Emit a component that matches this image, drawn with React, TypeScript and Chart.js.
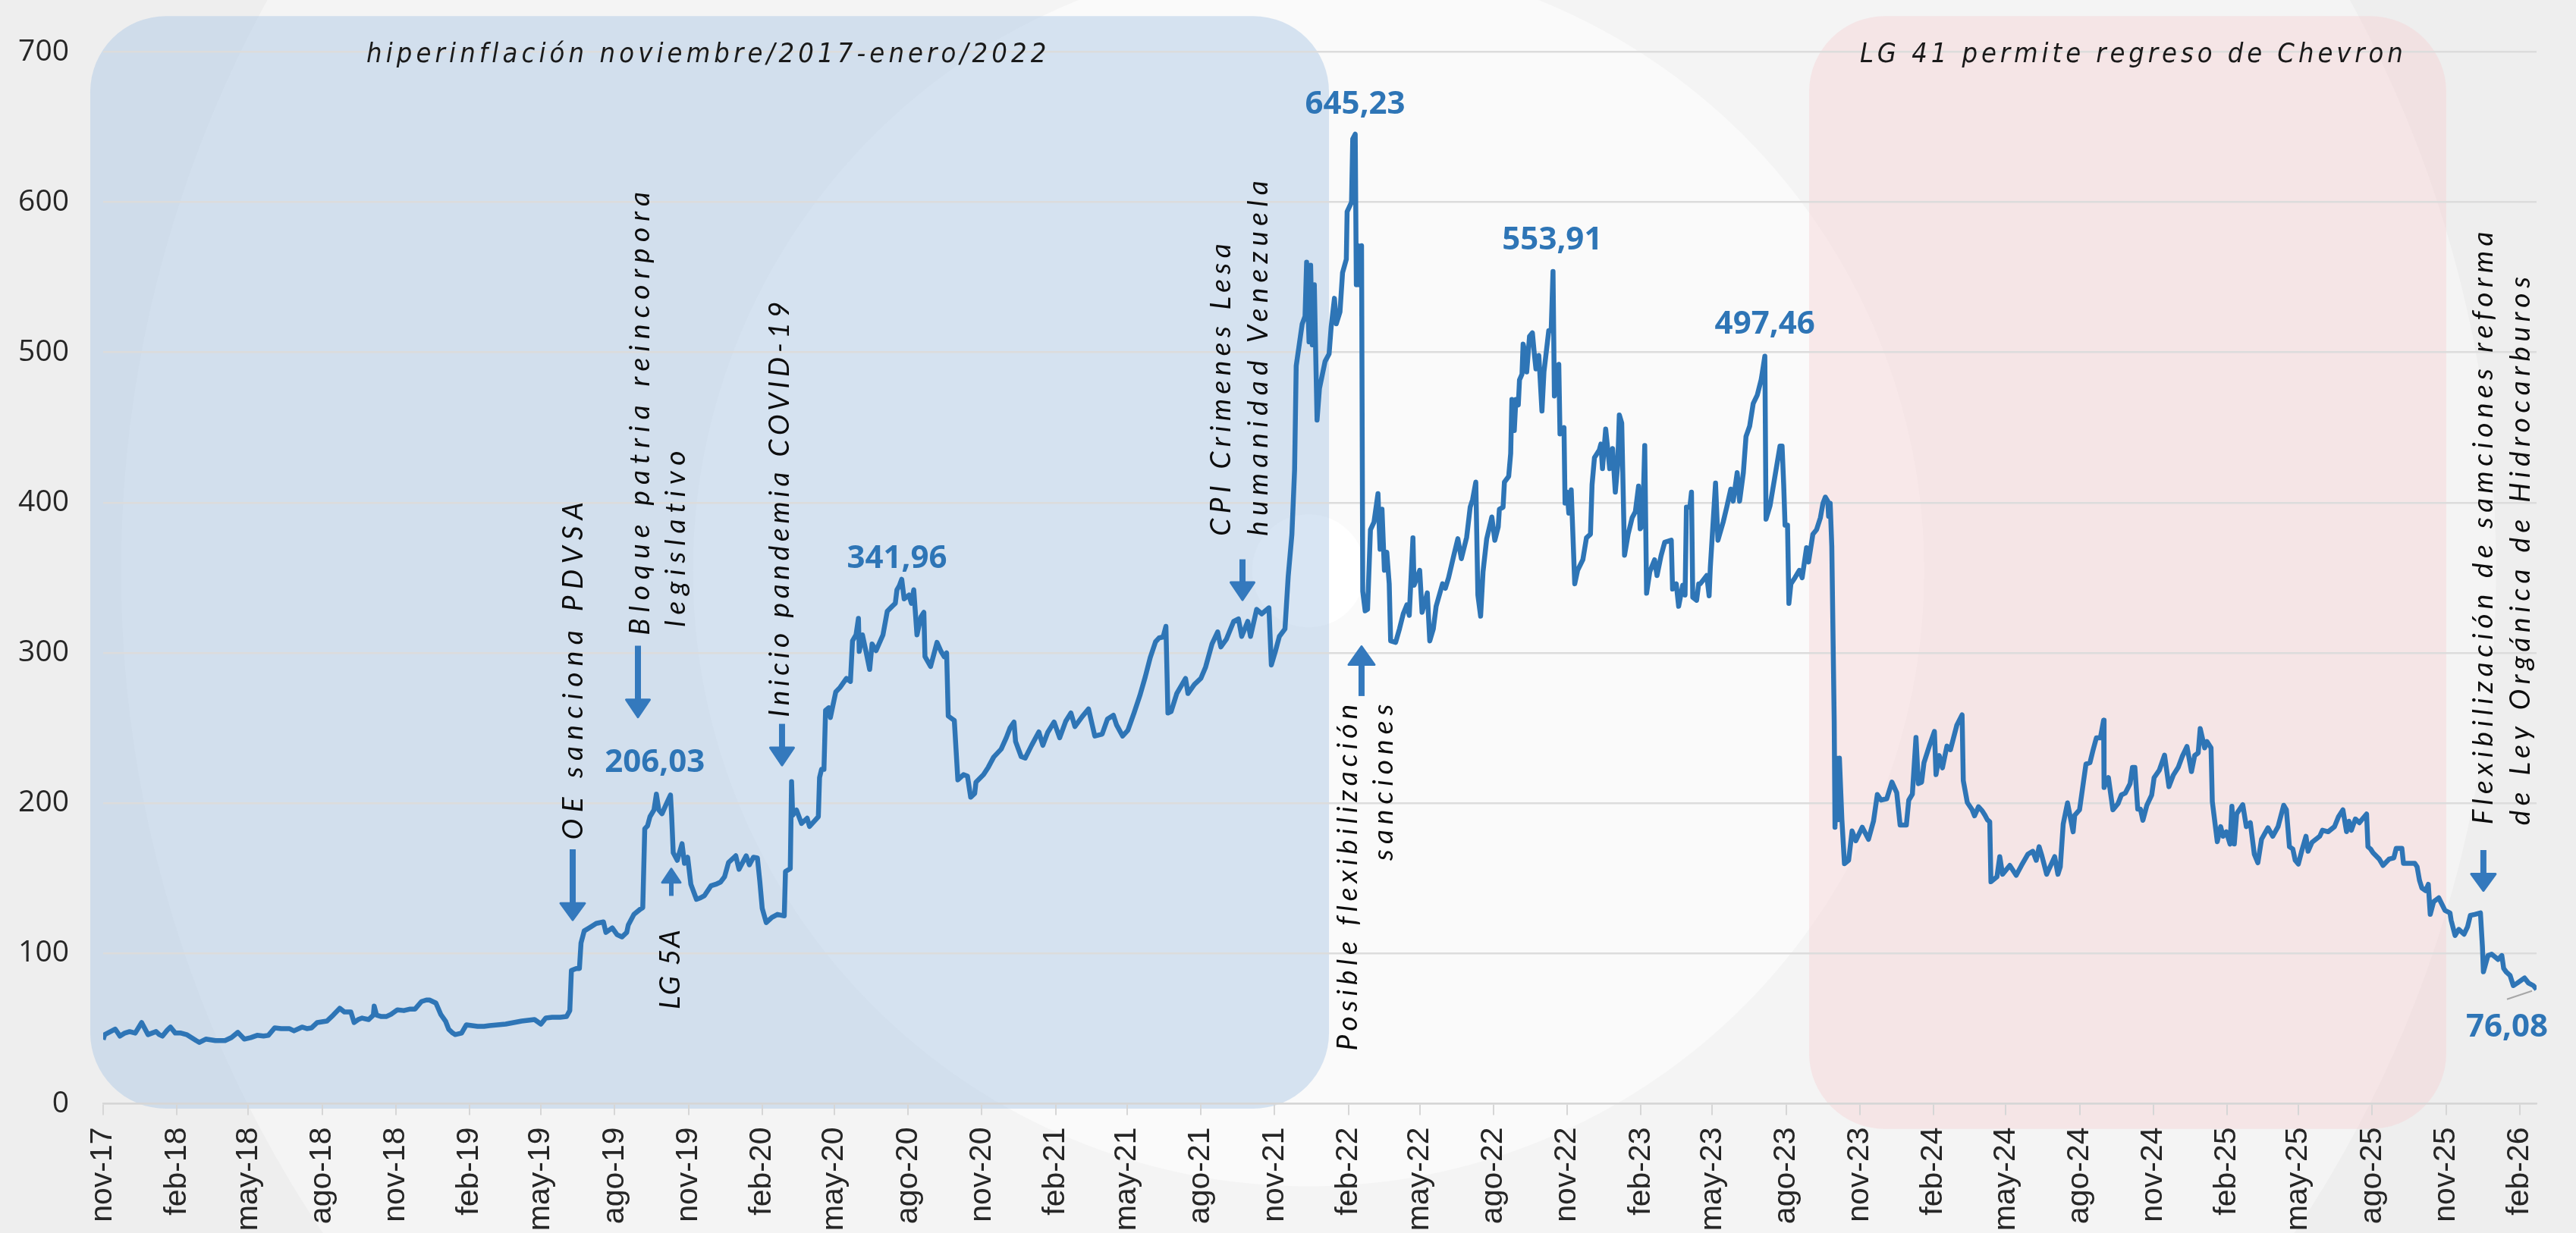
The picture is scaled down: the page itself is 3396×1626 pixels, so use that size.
import React, { useEffect, useRef } from 'react';
import { Chart, registerables } from 'chart.js';

Chart.register(...registerables);

const ANCHO = 3396;
const ALTO = 1626;

// Eje X: marcas trimestrales (primer día del mes)
const etiquetasEjeX = [
  'nov-17', 'feb-18', 'may-18', 'ago-18', 'nov-18', 'feb-19', 'may-19', 'ago-19', 'nov-19',
  'feb-20', 'may-20', 'ago-20', 'nov-20', 'feb-21', 'may-21', 'ago-21', 'nov-21', 'feb-22',
  'may-22', 'ago-22', 'nov-22', 'feb-23', 'may-23', 'ago-23', 'nov-23', 'feb-24', 'may-24',
  'ago-24', 'nov-24', 'feb-25', 'may-25', 'ago-25', 'nov-25', 'feb-26',
];
const MESES = ['ene', 'feb', 'mar', 'abr', 'may', 'jun', 'jul', 'ago', 'sep', 'oct', 'nov', 'dic'];
const DIA_FINAL = 3035; // días desde 1-nov-2017 hasta el último dato
const EJE_Y_MAX = 700;
const EJE_Y_PASO = 100;

// Serie: [días desde 1-nov-2017, valor]
const tramo2017a2019: [number, number][] = [
  [0, 42.7], [2, 46], [15, 49.7], [21, 45], [27, 47], [33, 48], [40, 47], [48, 54], [52, 50], [56, 46],
  [61, 47], [66, 48], [70, 46], [74, 45], [80, 49], [84, 51], [90, 47], [97, 47], [104, 46], [110, 44],
  [116, 42], [120, 40.8], [128, 43], [140, 42], [152, 42], [160, 44], [168, 47.5], [176, 43], [184, 44],
  [192, 45.5], [200, 45], [206, 45.5], [214, 50.5], [222, 50], [232, 50], [238, 48.5], [248, 51], [254, 50],
  [260, 50.5], [267, 54], [279, 55], [287, 59], [295, 63.5], [301, 61], [309, 61], [313, 54], [318, 56],
  [323, 57], [331, 56], [337, 59], [338, 65], [341, 59], [347, 58], [353, 58], [359, 59.5], [367, 62.5],
  [375, 62], [383, 63], [389, 63], [397, 68], [403, 69], [407, 69], [415, 67], [421, 59.5], [427, 55],
  [431, 49.5], [436, 47], [439, 46], [447, 47], [453, 52.5], [460, 52], [467, 51.5], [475, 51.5], [482, 52],
  [492, 52.5], [502, 53], [512, 54], [522, 55], [530, 55.5], [538, 56], [546, 53], [552, 57], [560, 57.5],
  [570, 57.5], [578, 58], [582, 62], [584, 88.7], [590, 90], [594, 90], [596, 107], [600, 115], [606, 117],
];

const tramo2019a2020: [number, number][] = [
  [615, 120], [624, 121], [627, 114], [635, 117], [641, 112.5], [647, 111], [653, 114], [655, 119], [662, 126],
  [670, 129.5], [673, 130.5], [675.5, 183], [679, 185], [682, 191], [687, 195.5], [690, 206.03], [693, 195.5],
  [697, 193], [702, 199], [707.6, 205.4], [709, 192], [711, 167], [716, 162], [722, 173], [725, 160], [729, 164],
  [733, 146], [740, 136], [745, 137], [750, 138.5], [758, 145], [764, 146], [770, 147.5], [775, 151], [780, 160.5],
  [789, 165], [793, 156], [802, 165], [806, 159], [811, 164], [816, 163.5], [819, 148], [822, 130], [827, 120.5],
  [834, 124], [841, 126], [849.5, 125], [851, 154.5], [857, 156.5], [858.6, 214.4], [860, 192], [864.7, 195.5],
  [871, 186.5], [878, 190], [881, 184.5], [892, 191], [893.5, 217], [896, 222.5], [899, 222.5], [901, 261.8],
  [905, 263.5], [907, 257], [913.7, 274], [919, 277], [927, 283], [932, 281], [934.6, 308], [939, 312], [942, 323],
  [943, 301], [947, 312], [952, 299.5], [956, 289], [959, 306], [964, 301.5], [972.6, 312], [978, 327.8], [984, 331],
  [988, 333], [990, 341.96], [993, 344.7], [996, 349], [999, 336], [1005, 338.5], [1008, 333], [1011, 342],
  [1015, 312], [1020, 324], [1023.6, 327], [1025, 297.5], [1032, 291], [1040, 307], [1045, 301], [1049, 297.5],
  [1052, 300], [1054, 258], [1061.6, 255],
];

const tramo2020a2022: [number, number][] = [
  [1066, 215.5], [1073, 219], [1078, 218], [1082, 204], [1087, 206.5], [1088.6, 214], [1098, 219], [1104, 224],
  [1110.7, 230.7], [1120, 236], [1126.5, 243.7], [1131, 250], [1136, 254], [1138, 241], [1145, 231], [1150, 230],
  [1158, 238.5], [1167, 247.4], [1172, 238.5], [1178, 247], [1186, 254], [1193, 243.5], [1200.6, 254.6], [1207, 260],
  [1212, 251], [1221, 257.6], [1229, 262.7], [1236.8, 244.7], [1246, 246], [1252.6, 256], [1260, 258.5], [1264, 252],
  [1271.5, 244.7], [1278, 248.5], [1285.7, 260], [1293, 271.6], [1299.7, 284], [1306, 297], [1312.6, 307.5],
  [1317, 310], [1322, 310.6], [1325.5, 317.7], [1328, 260], [1332, 261], [1339, 272.9], [1350, 283], [1353, 273],
  [1361, 279], [1369, 283], [1375, 290.6], [1383, 306], [1390, 314], [1394, 304], [1400.8, 309], [1410, 321],
  [1416, 322.6], [1420, 311], [1427.6, 321], [1431, 311], [1438.7, 329], [1445, 326], [1454, 330], [1457, 292],
  [1462, 301], [1467, 311], [1474, 316], [1478, 350.7], [1482.6, 378.7], [1486, 422], [1488, 491], [1495.5, 519],
  [1499, 524], [1501, 560], [1504, 507], [1506, 558], [1508, 505], [1510.6, 545], [1514, 455], [1517, 476],
  [1524, 494], [1529, 499], [1531.6, 517], [1535.7, 536], [1538, 519], [1542.6, 527], [1545.8, 553], [1550.5, 562],
];

const tramo2022a2023: [number, number][] = [
  [1551.5, 593.7], [1557, 600], [1558.5, 642], [1561.6, 645.23], [1563, 545], [1565, 571], [1567, 545],
  [1569.5, 571], [1571, 341], [1574, 328], [1577, 329], [1580.6, 382], [1585, 387], [1590, 406], [1592.6, 369],
  [1595, 395.6], [1598, 355], [1601, 367], [1604, 346], [1605.8, 308], [1612, 307], [1616.8, 316], [1621.5, 326],
  [1626, 332], [1629, 325], [1633.6, 376.6], [1635, 345], [1642, 355], [1645, 327], [1651.5, 340], [1654.6, 308],
  [1659, 316], [1662.5, 331], [1670.5, 346], [1674, 343], [1678, 350], [1684.6, 365], [1689.6, 376], [1694, 362.7],
  [1700.6, 377], [1705, 397], [1708, 402], [1712, 413.7], [1714.6, 338.5], [1718, 324.5], [1721, 354],
  [1725.6, 376], [1732, 390.5], [1735.7, 375], [1740, 384], [1741.4, 395.6], [1746, 397], [1747.7, 413.7],
  [1753, 417.5], [1755.5, 432.7], [1757, 468.7], [1760, 448], [1762, 468.7], [1765, 465], [1766.5, 481.7],
  [1769.6, 485.5], [1771, 505.5], [1774, 499], [1775.5, 487], [1779, 510.7], [1782.6, 513], [1785, 499],
  [1787, 489], [1790.6, 498], [1794.5, 461], [1797, 487], [1803, 514.5], [1806, 514.5], [1808.3, 553.91],
  [1810, 471], [1814, 487], [1815.5, 492], [1817, 445.7], [1822, 450], [1823.3, 399.7], [1826, 407], [1828, 393],
  [1831, 408.5], [1835.4, 346], [1839, 355], [1845.5, 362], [1850, 376.6], [1855, 379], [1857, 412], [1860, 430],
  [1866, 435], [1868, 439], [1870, 422.6], [1874, 449], [1879, 422.6], [1882.6, 436], [1886, 407], [1889, 425],
  [1891, 458.4], [1894, 453], [1897.5, 365], [1902, 379], [1907, 390], [1911, 394], [1915, 411], [1917, 382.6],
  [1920, 385], [1922.7, 438], [1925, 339.7], [1929, 354], [1935, 362], [1938, 351.5], [1943, 364.5],
  [1947.6, 373.6], [1955.8, 375], [1957.4, 342.5], [1962, 346], [1965, 331], [1970, 345], [1973, 338.5],
  [1974.7, 397], [1979, 397], [1981, 407], [1982.6, 337], [1987.4, 335], [1990, 346],
];

const tramo2023a2024: [number, number][] = [
  [1992, 346], [2000, 351.5], [2003, 338], [2004.5, 357], [2011, 413], [2014, 375], [2020.5, 387], [2025, 397],
  [2030, 409], [2033, 401], [2038, 420], [2041, 401], [2045.7, 420], [2049, 444], [2053.6, 451], [2058, 466],
  [2063, 471.5], [2068, 482], [2072.5, 497.46], [2074, 389], [2079, 398], [2091.4, 437.7], [2094, 437.7],
  [2096, 412], [2097.7, 385], [2100.8, 385], [2102.5, 333], [2105, 346], [2110, 350], [2115.5, 355], [2119, 350],
  [2124.5, 370], [2127, 360.5], [2132.4, 379], [2137, 382], [2141.8, 390], [2145, 399.6], [2148, 403.7],
  [2151, 401], [2152, 391], [2154, 399.6], [2156, 371], [2159, 254.7], [2160, 184], [2162, 230], [2164, 189],
  [2165.5, 230], [2168.6, 189], [2171.8, 159.7], [2177, 162], [2181.3, 181.5], [2186, 175], [2194, 184],
  [2201.8, 176], [2208, 188], [2212.8, 205.8], [2217.5, 202], [2224.6, 203], [2231, 214], [2237, 207],
  [2241.2, 185.5], [2249, 185.5], [2252, 202], [2256.5, 206], [2261, 243.8], [2264, 213], [2268, 214], [2271, 227],
  [2277.6, 238], [2284, 247.7], [2286, 219], [2290, 231.7], [2294, 223.5], [2299.6, 238], [2304, 235.6],
  [2312, 252], [2318.5, 258.8], [2320, 215], [2325, 200.5], [2331, 195.7], [2334, 191.6], [2339, 197.6],
  [2343.5, 195], [2347, 192], [2350, 189], [2353, 187.6], [2354.5, 147.7], [2362, 151], [2365.5, 164.4],
  [2369, 152.7], [2378, 158.6], [2386, 152], [2392.6, 158.6], [2400.5, 166], [2406.7, 168],
];

const tramo2024a2025: [number, number][] = [
  [2411, 162], [2414.6, 171], [2418, 165], [2424, 152.7], [2434, 164.4], [2438, 152.7], [2441, 157.7],
  [2444.6, 186], [2450, 200.2], [2457, 181], [2459, 192], [2465, 195.6], [2473, 226], [2478, 227], [2481.7, 235],
  [2486, 243.5], [2491, 243.5], [2495, 255.2], [2495.6, 210.5], [2501, 217], [2506.6, 195.6], [2513, 199.7],
  [2517.2, 205.5], [2522, 206.7], [2528, 213], [2531, 223.8], [2534, 223.8], [2537.6, 196], [2541, 196],
  [2544, 188.6], [2549, 198.6], [2555, 205.5], [2558, 217], [2564.5, 222], [2571, 232], [2576.5, 211],
  [2582, 218.7], [2588, 223.8], [2593, 231], [2599, 237.7], [2604.6, 221], [2608.6, 231.7], [2613, 233.5],
  [2615.5, 249.7], [2621, 236.8], [2624, 241], [2629, 236.8], [2630.6, 201], [2636.8, 174.4], [2641, 184.4],
  [2644, 178], [2648, 181], [2652.7, 172.8], [2655, 198], [2658, 172.8], [2661, 193], [2668.6, 199], [2673, 184.4],
  [2678, 187], [2683, 166], [2687.4, 160.3], [2692, 176], [2700, 183.6], [2706, 178], [2712.6, 184.4],
  [2719.6, 198.6], [2723, 195.6], [2726.8, 171], [2731, 169.5], [2734, 162], [2737.9, 159.5], [2742, 168],
  [2747.4, 178], [2750, 168], [2755, 174], [2764.6, 178], [2768, 182], [2775, 181], [2783, 184.4], [2788, 191],
  [2793.5, 195.6], [2798, 181], [2801, 188],
];

const tramo2025a2026: [number, number][] = [
  [2804, 182], [2809, 189.5], [2814, 187], [2823, 192.8], [2824.7, 171], [2828, 169.5], [2831, 167],
  [2838.8, 162.8], [2843.5, 158.6], [2851, 162.8], [2857, 163.6], [2860, 170], [2867, 170], [2869, 160],
  [2876.6, 160], [2883, 160], [2886, 157.7], [2889, 148.6], [2892, 143.5], [2896.7, 141.8], [2900, 146],
  [2902.4, 126], [2906.6, 134.4], [2913, 137], [2917, 132.7], [2920.8, 128.6], [2927, 127], [2928.5, 122],
  [2933.4, 112], [2938, 116], [2944.5, 112.8], [2949, 117.8], [2952.4, 125.3], [2958, 126], [2965, 127],
  [2967.5, 104.4], [2968.7, 87.8], [2974.4, 98.6], [2979, 99.5], [2983, 97.8], [2987, 96], [2991.7, 98.6],
  [2994, 90], [2997, 87.8], [3002, 85.3], [3006, 78.6], [3011, 80.3], [3020, 83.7], [3025, 80.3], [3031, 78.6],
  [3035, 76.08],
];

// Periodos sombreados (días, valores del eje Y)
const periodos = [
  { texto: 'hiperinflación noviembre/2017-enero/2022', desde: -16.1, hasta: 1528.9, techo: 723.8, piso: -3.3,
    relleno: 'rgba(170,198,228,0.46)', textoDesde: 328.3, textoHasta: 1176.8 },
  { texto: 'LG 41 permite regreso de Chevron', desde: 2127.7, hasta: 2922.4, techo: 723.8, piso: -16.8,
    relleno: 'rgba(246,210,212,0.44)', textoDesde: 2191, textoHasta: 2868.4 },
];
const ALTURA_TITULOS = 693.3;

// Notas verticales: día de la línea base, valores de inicio y final del texto
const notas = [
  { texto: 'OE sanciona PDVSA', dia: 597.9, desde: 175.8, hasta: 400.3 },
  { texto: 'Bloque patria reincorpora', dia: 680.7, desde: 311.8, hasta: 606.8 },
  { texto: 'legislativo', dia: 725.7, desde: 317.3, hasta: 434.3 },
  { texto: 'LG 5A', dia: 719, desde: 62.8, hasta: 115.8 },
  { texto: 'Inicio pandemia COVID-19', dia: 855.3, desde: 257.3, hasta: 533.8 },
  { texto: 'CPI Crimenes Lesa', dia: 1405.9, desde: 377.8, hasta: 572.3 },
  { texto: 'humanidad Venezuela', dia: 1451.9, desde: 377.8, hasta: 614.3 },
  { texto: 'Posible flexibilización', dia: 1563.9, desde: 35.3, hasta: 265.8 },
  { texto: 'sanciones', dia: 1608.3, desde: 161.8, hasta: 265.8 },
  { texto: 'Flexibilización de samciones reforma', dia: 2980, desde: 185.8, hasta: 580.3 },
  { texto: 'de Ley Orgánica de Hidrocarburos', dia: 3026.5, desde: 185.3, hasta: 550.3 },
];

// Flechas: día, valor de la cola, valor de la punta
const flechas = [
  { dia: 585.6, cola: 169.3, punta: 122.3, largoPunta: 22, anchoPunta: 32, grosor: 8 },
  { dia: 667, cola: 304.8, punta: 257.3, largoPunta: 23, anchoPunta: 31, grosor: 8 },
  { dia: 708.6, cola: 138.3, punta: 156.3, largoPunta: 18, anchoPunta: 24, grosor: 6 },
  { dia: 846.7, cola: 252.8, punta: 225.3, largoPunta: 23, anchoPunta: 31, grosor: 8 },
  { dia: 1421, cola: 362.3, punta: 335.3, largoPunta: 23, anchoPunta: 31, grosor: 8 },
  { dia: 1569.5, cola: 271.3, punta: 304.3, largoPunta: 24, anchoPunta: 34, grosor: 8 },
  { dia: 2968.7, cola: 168.8, punta: 141.8, largoPunta: 22, anchoPunta: 32, grosor: 8 },
];

// Etiquetas de valores destacados
const etiquetasValor = [
  { dia: 690, valor: 206.03, dx: -2, dy: -29 },
  { dia: 990, valor: 341.96, dx: 0, dy: -29 },
  { dia: 1561.6, valor: 645.23, dx: 0, dy: -27 },
  { dia: 1808.3, valor: 553.91, dx: -1, dy: -29 },
  { dia: 2072.5, valor: 497.46, dx: 0, dy: -30 },
  { dia: 3035, valor: 76.08, dx: -39, dy: 62, guia: true },
];

const AZUL = '#2e75b6';
const AZUL_FLECHA = '#3479bd';

function diaDeEtiqueta(l: string): number {
  const [m, a] = l.split('-');
  return (Date.UTC(2000 + Number(a), MESES.indexOf(m), 1) - Date.UTC(2017, 10, 1)) / 86400000;
}

function ajustarTexto(ctx: CanvasRenderingContext2D, texto: string, largo: number, fuente: string) {
  ctx.font = fuente;
  (ctx as any).letterSpacing = '0px';
  const w = ctx.measureText(texto).width;
  const n = Array.from(texto).length;
  const esp = n > 1 ? (largo - w) / (n - 1) : 0;
  (ctx as any).letterSpacing = `${esp}px`;
}

const fondoPlugin = {
  id: 'fondo',
  beforeDraw(chart: any) {
    const { ctx, width, height, scales } = chart;
    const x = scales.x;
    const y = scales.y;
    ctx.save();
    ctx.fillStyle = '#eeeeee';
    ctx.fillRect(0, 0, width, height);
    const cx = width * 0.508;
    const cy = height * 0.463;
    const circulos = [
      { r: width * 0.461, a: 0.38 },
      { r: width * 0.239, a: 0.5 },
      { r: width * 0.022, a: 0.85 },
    ];
    for (const c of circulos) {
      ctx.beginPath();
      ctx.arc(cx, cy, c.r, 0, Math.PI * 2);
      ctx.fillStyle = `rgba(255,255,255,${c.a})`;
      ctx.fill();
    }
    for (const p of periodos) {
      const x0 = x.getPixelForValue(p.desde);
      const x1 = x.getPixelForValue(p.hasta);
      const y0 = y.getPixelForValue(p.techo);
      const y1 = y.getPixelForValue(p.piso);
      ctx.beginPath();
      ctx.roundRect(x0, y0, x1 - x0, y1 - y0, 100);
      ctx.fillStyle = p.relleno;
      ctx.fill();
    }
    ctx.restore();
  },
};

const notasPlugin = {
  id: 'notas',
  afterDatasetsDraw(chart: any) {
    const { ctx, scales } = chart;
    const x = scales.x;
    const y = scales.y;
    ctx.save();
    // títulos de los periodos
    for (const p of periodos) {
      const x0 = x.getPixelForValue(p.textoDesde);
      const x1 = x.getPixelForValue(p.textoHasta);
      ajustarTexto(ctx, p.texto, x1 - x0, 'italic 36px "Liberation Sans Narrow", "DejaVu Sans Condensed", sans-serif');
      ctx.fillStyle = '#1a1a1a';
      ctx.textAlign = 'left';
      ctx.textBaseline = 'alphabetic';
      ctx.fillText(p.texto, x0, y.getPixelForValue(ALTURA_TITULOS));
    }
    // notas verticales
    for (const n of notas) {
      const bx = x.getPixelForValue(n.dia);
      const y0 = y.getPixelForValue(n.desde);
      const y1 = y.getPixelForValue(n.hasta);
      ajustarTexto(ctx, n.texto, y0 - y1, 'italic 37px Lato, "Open Sans", sans-serif');
      ctx.save();
      ctx.translate(bx, y0);
      ctx.rotate(-Math.PI / 2);
      ctx.fillStyle = '#0d0d0d';
      ctx.textAlign = 'left';
      ctx.textBaseline = 'alphabetic';
      ctx.fillText(n.texto, 0, 0);
      ctx.restore();
    }
    (ctx as any).letterSpacing = '0px';
    // flechas
    for (const f of flechas) {
      const fx = x.getPixelForValue(f.dia);
      const yc = y.getPixelForValue(f.cola);
      const yp = y.getPixelForValue(f.punta);
      const dir = Math.sign(yp - yc);
      const yb = yp - dir * f.largoPunta;
      ctx.strokeStyle = AZUL_FLECHA;
      ctx.fillStyle = AZUL_FLECHA;
      ctx.lineCap = 'butt';
      ctx.lineWidth = f.grosor;
      ctx.beginPath();
      ctx.moveTo(fx, yc);
      ctx.lineTo(fx, yb + dir * 2);
      ctx.stroke();
      ctx.beginPath();
      ctx.moveTo(fx - f.anchoPunta / 2, yb);
      ctx.lineTo(fx + f.anchoPunta / 2, yb);
      ctx.lineTo(fx, yp);
      ctx.closePath();
      ctx.lineJoin = 'round';
      ctx.lineWidth = 3;
      ctx.fill();
      ctx.stroke();
    }
    // etiquetas de valores
    ctx.font = 'bold 42px "Open Sans", "Liberation Sans", sans-serif';
    ctx.textAlign = 'center';
    ctx.textBaseline = 'alphabetic';
    for (const e of etiquetasValor) {
      const px = x.getPixelForValue(e.dia);
      const py = y.getPixelForValue(e.valor);
      if (e.guia) {
        ctx.strokeStyle = '#a6a6a6';
        ctx.lineWidth = 2;
        ctx.beginPath();
        ctx.moveTo(px - 39, py + 13);
        ctx.lineTo(px - 6, py + 2);
        ctx.stroke();
      }
      ctx.fillStyle = AZUL;
      ctx.fillText(e.valor.toFixed(2).replace('.', ','), px + e.dx, py + e.dy);
    }
    ctx.restore();
  },
};

export default function App() {
  const ref = useRef<HTMLCanvasElement | null>(null);

  useEffect(() => {
    if (!ref.current) return;
    const puntos = [
      ...tramo2017a2019, ...tramo2019a2020, ...tramo2020a2022, ...tramo2022a2023,
      ...tramo2023a2024, ...tramo2024a2025, ...tramo2025a2026,
    ].map(([d, v]) => ({ x: d, y: v }));

    const chart = new Chart(ref.current, {
      type: 'line',
      data: {
        datasets: [{
          data: puntos,
          borderColor: AZUL,
          borderWidth: 6.5,
          pointRadius: 0,
          tension: 0,
          borderJoinStyle: 'round',
          fill: false,
        }],
      },
      options: {
        responsive: false,
        animation: false,
        devicePixelRatio: 1,
        layout: { padding: { top: 55.5, right: 52, left: 0, bottom: 0 } },
        plugins: { legend: { display: false }, tooltip: { enabled: false } },
        scales: {
          x: {
            type: 'linear',
            min: 0,
            max: DIA_FINAL,
            afterBuildTicks: (scale: any) => {
              scale.ticks = etiquetasEjeX.map((l) => ({ value: diaDeEtiqueta(l) }));
            },
            afterFit: (scale: any) => {
              scale.height = ALTO - 1455.5;
              scale.paddingLeft = 0;
              scale.paddingRight = 0;
            },
            ticks: {
              autoSkip: false,
              maxRotation: 90,
              minRotation: 90,
              padding: 16,
              color: '#262626',
              font: { family: '"Liberation Sans", Arial, sans-serif', size: 41 },
              callback: (_v: any, i: number) => etiquetasEjeX[i],
            },
            grid: {
              drawOnChartArea: false,
              drawTicks: true,
              tickLength: 15,
              color: '#d6d6d6',
              lineWidth: 2,
            },
            border: { display: true, color: '#d6d6d6', width: 2.5 },
          },
          y: {
            min: 0,
            max: EJE_Y_MAX,
            afterFit: (scale: any) => {
              scale.width = 136;
            },
            ticks: {
              stepSize: EJE_Y_PASO,
              padding: 45,
              color: '#262626',
              font: { family: '"Open Sans", sans-serif', size: 39 },
            },
            grid: { color: '#dcdcdc', lineWidth: 2.5, drawTicks: false },
            border: { display: false },
          },
        },
      },
      plugins: [fondoPlugin, notasPlugin],
    } as any);

    return () => chart.destroy();
  }, []);

  return (
    <div style={{ position: 'fixed', left: 0, top: 0, width: ANCHO, height: ALTO }}>
      <canvas ref={ref} width={ANCHO} height={ALTO} style={{ display: 'block', width: ANCHO, height: ALTO }} />
    </div>
  );
}
